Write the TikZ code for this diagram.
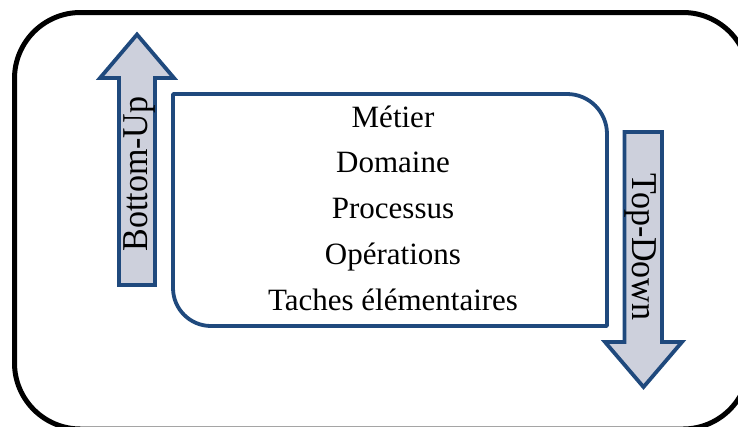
\documentclass[tikz,border=0pt]{standalone}
\usepackage{fontspec}
\setmainfont{Liberation Serif}
\definecolor{frameblue}{RGB}{31,73,125}
\definecolor{arrowfill}{RGB}{205,208,220}
\tikzset{
  outerframe/.style={draw=black, line width=5pt, rounded corners=66pt},
  levelbox/.style={draw=frameblue, line width=3.8pt, line join=round},
  bigarrow/.style={draw=frameblue, fill=arrowfill, line width=3.8pt, line join=miter},
  level/.style={font=\fontsize{31}{31}\selectfont, inner sep=0pt, anchor=base},
  sidelabel/.style={font=\fontsize{34}{34}\selectfont, inner sep=0pt, anchor=base, xscale=1.07},
}
\begin{document}
\begin{tikzpicture}[x=1pt, y=-1pt]
  \useasboundingbox (0,0) rectangle (738,426);
  \clip (0,0) rectangle (738,426);

  % outer frame, running past the right and bottom edges
  \draw[outerframe] (14.5,12.5) rectangle (749,429);

  % Bottom-Up arrow
  \draw[bigarrow] (119,285) -- (119,78) -- (100,78) -- (137,34.5) -- (174,78)
        -- (155,78) -- (155,285) -- cycle;
  % Top-Down arrow
  \draw[bigarrow] (624.5,132) -- (662,132) -- (662,342) -- (682,342) -- (643.5,387)
        -- (605,342) -- (624.5,342) -- cycle;

  % box of the levels: two rounded corners, two square ones (y axis points down)
  \draw[levelbox] (173,94) -- (567,94) arc[start angle=-90, end angle=0, radius=40]
        -- (607,326) -- (211,326) arc[start angle=90, end angle=180, radius=38]
        -- cycle;

  % levels
  \node[level] (metier)     at (393,127)   {Métier};
  \node[level] (domaine)    at (393,172.5) {Domaine};
  \node[level] (processus)  at (393,218)   {Processus};
  \node[level] (operations) at (393,264)   {Opérations};
  \node[level] (taches)     at (393,310)   {Taches élémentaires};

  % arrow labels
  \node[sidelabel, rotate=90]  (bottomup) at (147,174) {Bottom-Up};
  \node[sidelabel, rotate=-90] (topdown)  at (632,247) {Top-Down};
\end{tikzpicture}
\end{document}
